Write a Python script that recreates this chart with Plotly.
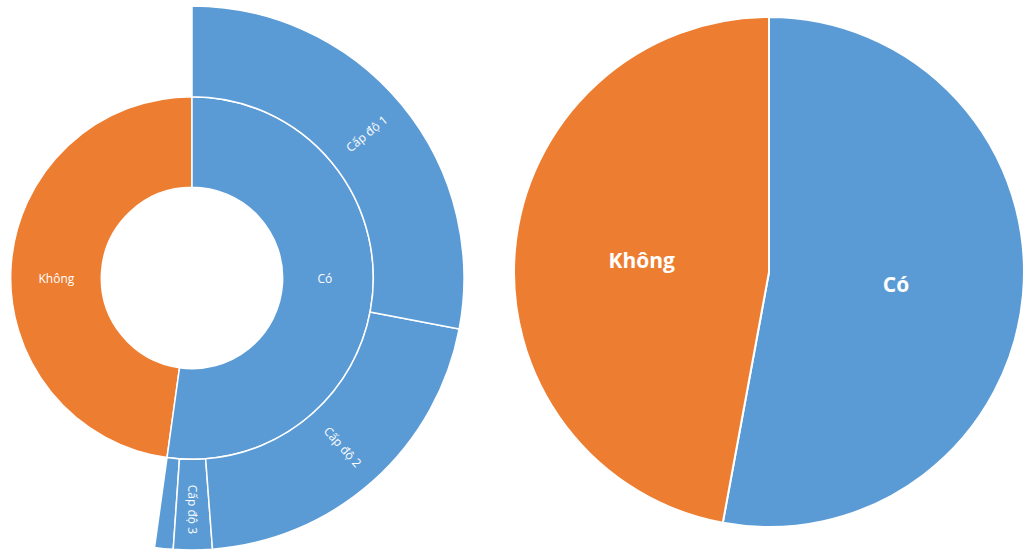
import math
import plotly.graph_objects as go

# ---- Sunburst (left) data, drawing order: counter-clockwise from 12 o'clock ----
sb_ids     = ["root", "Không", "Có", "Cấp độ 4", "Cấp độ 3", "Cấp độ 2", "Cấp độ 1"]
sb_labels  = ["", "Không", "Có", "Cấp độ 4", "Cấp độ 3", "Cấp độ 2", "Cấp độ 1"]
sb_parents = ["", "root", "root", "Có", "Có", "Có", "Có"]
sb_values  = [100.0, 47.8, 52.2, 1.1, 2.3, 20.8, 28.0]
sb_text    = ["", "Không", "Có", "", "Cấp độ 3", "Cấp độ 2", ""]

# ---- Pie (right) data ----
pie_labels = ["Có", "Không"]
pie_values = [52.9, 47.1]

BLUE = "#5B9BD5"
ORANGE = "#ED7D31"

sb_colors = []
for lab in sb_labels:
    if lab == "":
        sb_colors.append("#FFFFFF")
    elif lab == "Không":
        sb_colors.append(ORANGE)
    else:
        sb_colors.append(BLUE)

W, H = 1104, 550
SHIFT = 80
SB_R = 272                    # sunburst outer radius in px
SB_CX, SB_CY = 272, 278       # centre in figure px (from left / top)

fig = go.Figure()

fig.add_trace(go.Sunburst(
    ids=sb_ids,
    labels=sb_labels,
    parents=sb_parents,
    values=sb_values,
    branchvalues="total",
    sort=False,
    rotation=90,
    text=sb_text,
    texttemplate="%{text}",
    insidetextorientation="radial",
    leaf=dict(opacity=1),
    marker=dict(colors=sb_colors, line=dict(color="white", width=1.5)),
    textfont=dict(family="Open Sans", size=12, color="white"),
    hoverinfo="label+value",
    domain=dict(x=[(SB_CX - SB_R) / W, (SB_CX + SB_R) / W],
                y=[(H - SB_CY - SB_R) / H, (H - SB_CY + SB_R) / H]),
))

# radial label for "Cấp độ 1" (plotly would flip it horizontal at 3 o'clock)
total = sb_values[0]
idx = sb_labels.index("Cấp độ 1")
mid_deg = 360.0 * (sb_values[idx] / 2.0) / total      # clockwise from 12 o'clock
ring_mid = SB_R * 2.5 / 3.0
ax = SB_CX + ring_mid * math.sin(math.radians(mid_deg))
ay = SB_CY - ring_mid * math.cos(math.radians(mid_deg))
fig.add_annotation(
    x=ax / W, y=(H - ay) / H, xref="paper", yref="paper",
    text=sb_labels[idx], showarrow=False,
    textangle=-(90 - mid_deg),
    font=dict(family="Open Sans", size=12, color="white"),
    xanchor="center", yanchor="middle",
)

cx, cy, r = 849, 272, 255
fig.add_trace(go.Pie(
    labels=pie_labels,
    values=pie_values,
    sort=False,
    direction="clockwise",
    rotation=0,
    marker=dict(colors=[BLUE, ORANGE], line=dict(color="white", width=2)),
    textinfo="label",
    textposition="inside",
    insidetextorientation="horizontal",
    textfont=dict(family="Open Sans", size=21, color="white", weight="bold"),
    domain=dict(x=[(cx - r) / W, (cx + r) / W],
                y=[(H - cy - r) / H, (H - cy + r) / H]),
    showlegend=False,
))

fig.update_layout(
    width=W, height=H,
    margin=dict(l=0, r=0, t=0, b=0),
    paper_bgcolor="white",
    plot_bgcolor="white",
    showlegend=False,
)

post = ("var d=document.getElementById('{plot_id}');"
        "d.style.marginLeft='-%dpx';"
        "document.body.style.margin='0';"
        "document.body.style.overflow='hidden';" % SHIFT)
fig.write_html("out.html", post_script=post)
